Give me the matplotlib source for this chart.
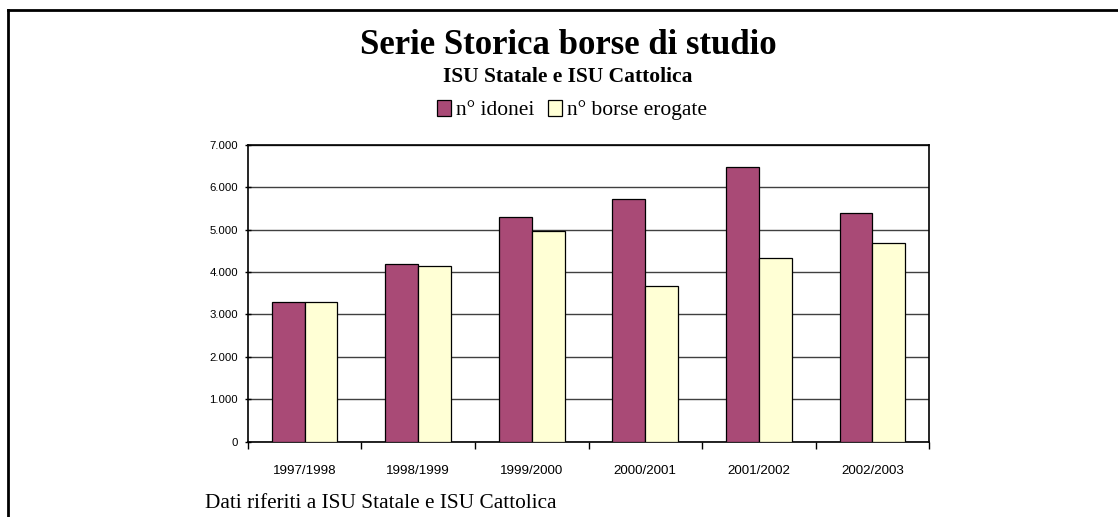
import numpy as np
import matplotlib.pyplot as plt
from matplotlib.lines import Line2D
from matplotlib.ticker import FuncFormatter

# dati
anni = ['1997/1998', '1998/1999', '1999/2000', '2000/2001', '2001/2002', '2002/2003']
idonei = [3290, 4200, 5290, 5710, 6470, 5390]
borse_erogate = [3290, 4150, 4960, 3680, 4320, 4690]

serif = ['Liberation Serif', 'DejaVu Serif']
sans = ['Liberation Sans', 'DejaVu Sans']

fig = plt.figure(figsize=(11.18, 5.17), dpi=100)
ax = fig.add_axes([0.2216, 0.1456, 0.6096, 0.5745])

x = np.arange(len(anni))
w = 0.29
ax.bar(x - w / 2, idonei, w, color='#A94A76', edgecolor='black', linewidth=0.9,
       label='n° idonei', zorder=3)
ax.bar(x + w / 2, borse_erogate, w, color='#FFFFD5', edgecolor='black', linewidth=0.9,
       label='n° borse erogate', zorder=3)

ax.set_xlim(-0.5, len(anni) - 0.5)
ax.set_ylim(0, 7000)
ax.set_yticks(np.arange(0, 7001, 1000))
ax.yaxis.set_major_formatter(FuncFormatter(lambda v, p: f'{int(v):,}'.replace(',', '.')))
ax.grid(axis='y', color='#404040', linewidth=1.0, zorder=0)

# tick di categoria sui bordi
ax.set_xticks(np.arange(-0.5, len(anni)), minor=False)
ax.set_xticklabels([])
ax.set_xticks(x, minor=True)
ax.set_xticklabels(anni, minor=True, fontsize=9.6, family=sans)
ax.tick_params(axis='x', which='minor', length=0, pad=17)
ax.tick_params(axis='x', which='major', length=5, width=1, direction='out')
ax.tick_params(axis='y', length=4, width=1, direction='inout', pad=5)
for lab in ax.get_yticklabels():
    lab.set_fontsize(8.2)
    lab.set_family(sans)

for s in ax.spines.values():
    s.set_color('black')
    s.set_linewidth(1.2)

fig.text(0.508, 1 - 46 / 517, 'Serie Storica borse di studio', ha='center', va='center',
         fontsize=25, fontweight='bold', family=serif)
fig.text(0.508, 1 - 77 / 517, 'ISU Statale e ISU Cattolica', ha='center', va='center',
         fontsize=15.5, fontweight='bold', family=serif)

leg = fig.legend(loc='center', bbox_to_anchor=(572 / 1118, 1 - 110 / 517), ncol=2,
                 frameon=False, prop={'family': serif, 'size': 15.5},
                 handlelength=0.65, handleheight=0.8, handletextpad=0.25, columnspacing=0.6)

fig.text(205 / 1118, 1 - 503 / 517, 'Dati riferiti a ISU Statale e ISU Cattolica',
         ha='left', va='center', fontsize=15.3, family=serif)

# cornice
fig.add_artist(Line2D([8 / 1118, 1], [1 - 10 / 517] * 2, transform=fig.transFigure,
                      color='black', linewidth=2))
fig.add_artist(Line2D([8 / 1118] * 2, [0, 1 - 10 / 517], transform=fig.transFigure,
                      color='black', linewidth=2))

fig.savefig('out.png', dpi=100)
